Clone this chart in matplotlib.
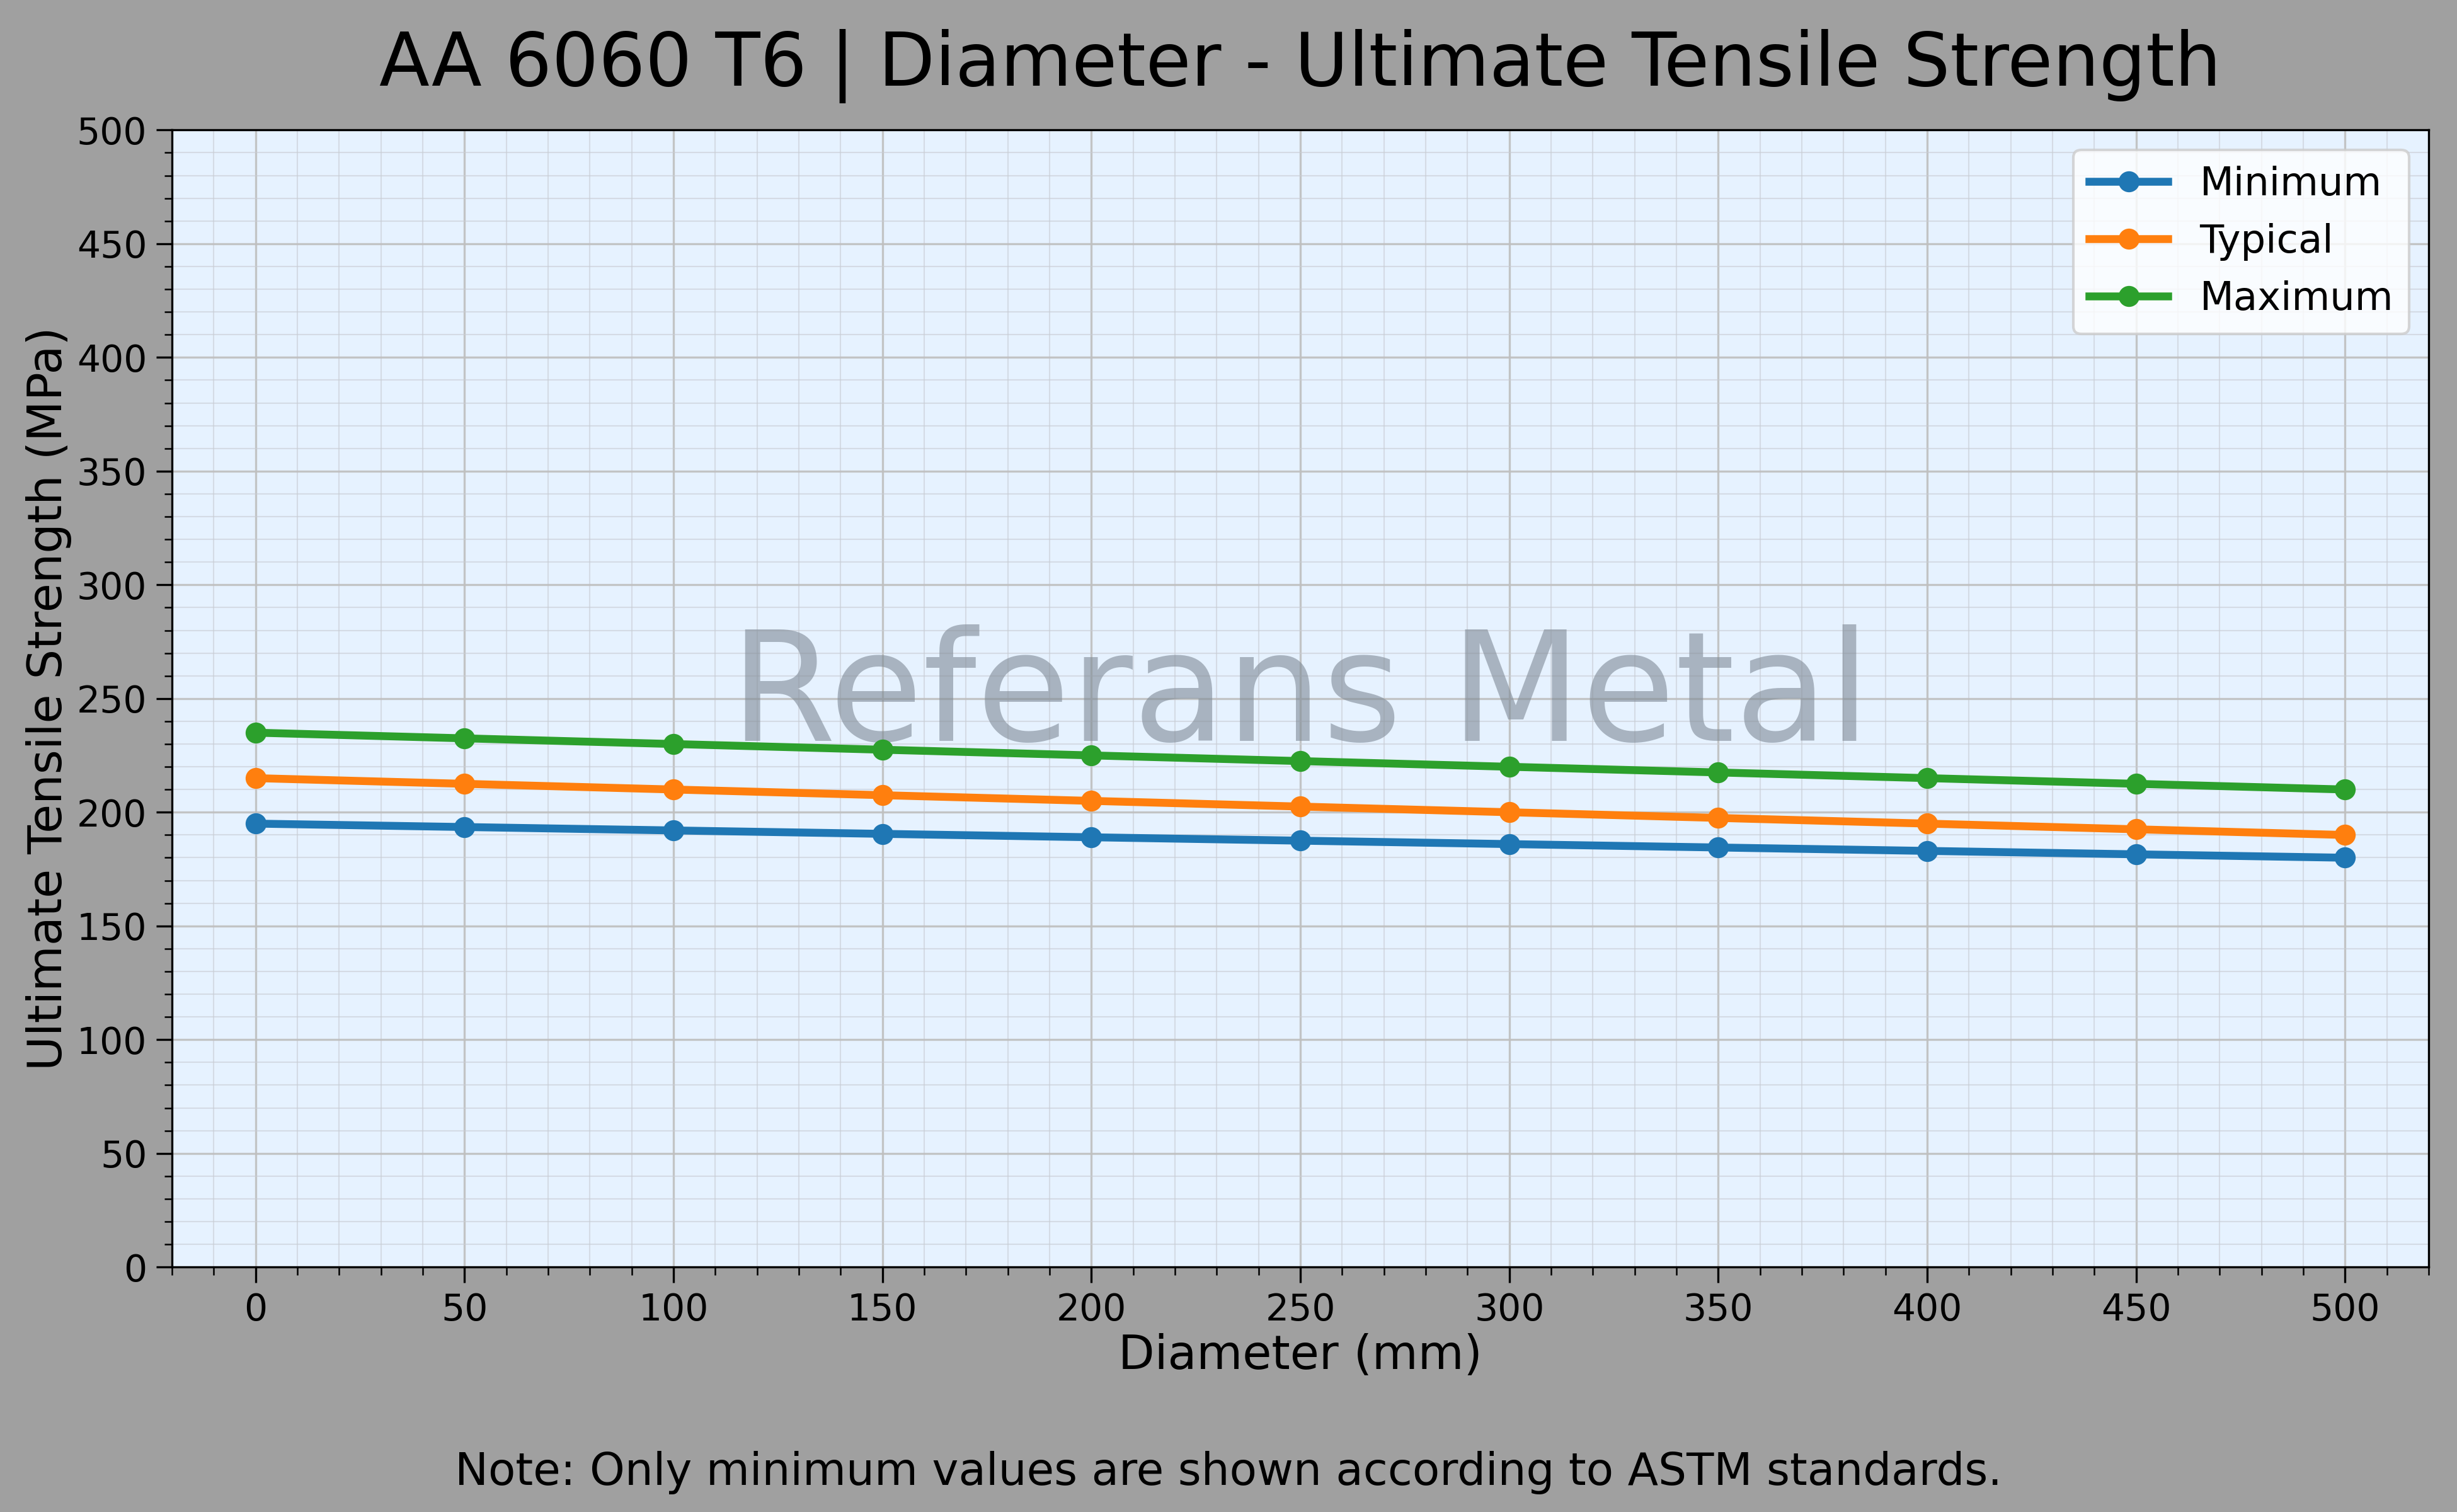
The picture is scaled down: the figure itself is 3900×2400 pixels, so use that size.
import matplotlib
matplotlib.use("Agg")
import matplotlib.pyplot as plt
from matplotlib.ticker import MultipleLocator

diameter = [0, 50, 100, 150, 200, 250, 300, 350, 400, 450, 500]
minimum = [195, 193.5, 192, 190.5, 189, 187.5, 186, 184.5, 183, 181.5, 180]
typical = [215, 212.5, 210, 207.5, 205, 202.5, 200, 197.5, 195, 192.5, 190]
maximum = [235, 232.5, 230, 227.5, 225, 222.5, 220, 217.5, 215, 212.5, 210]

title = "AA 6060 T6 | Diameter - Ultimate Tensile Strength"
note = "Note: Only minimum values are shown according to ASTM standards."

fig = plt.figure(figsize=(13, 8), dpi=300, facecolor="#a0a0a0")
ax = fig.add_axes([0.070, 0.162, 0.9185, 0.752])
ax.set_facecolor("#e6f2ff")

ax.plot(diameter, minimum, "-o", color="#1f77b4", lw=3, ms=7, label="Minimum", zorder=3)
ax.plot(diameter, typical, "-o", color="#ff7f0e", lw=3, ms=7, label="Typical", zorder=3)
ax.plot(diameter, maximum, "-o", color="#2ca02c", lw=3, ms=7, label="Maximum", zorder=3)

ax.set_xlim(-20, 520)
ax.set_ylim(0, 500)
ax.xaxis.set_major_locator(MultipleLocator(50))
ax.yaxis.set_major_locator(MultipleLocator(50))
ax.xaxis.set_minor_locator(MultipleLocator(10))
ax.yaxis.set_minor_locator(MultipleLocator(10))
ax.grid(which="major", color="#bfbfbf", lw=0.8, alpha=0.9)
ax.grid(which="minor", color="#c8ccd4", lw=0.5, alpha=0.6)
ax.set_axisbelow(True)
ax.tick_params(labelsize=14)
ax.tick_params(which="major", length=6)
ax.tick_params(which="minor", length=3)

ax.set_xlabel("Diameter (mm)", fontsize=18, labelpad=2)
ax.set_ylabel("Ultimate Tensile Strength (MPa)", fontsize=18, labelpad=2)
ax.set_title(title, fontsize=28, pad=17)

ax.text(0.5, 0.5, "Referans Metal", transform=ax.transAxes, fontsize=58,
        color="#7f8a96", alpha=0.6, ha="center", va="center", zorder=2)

ax.legend(loc="upper right", fontsize=15, framealpha=0.8)

fig.text(0.5, 0.026, note, ha="center", va="center", fontsize=17)

fig.savefig("out.png", dpi=300, facecolor=fig.get_facecolor())
